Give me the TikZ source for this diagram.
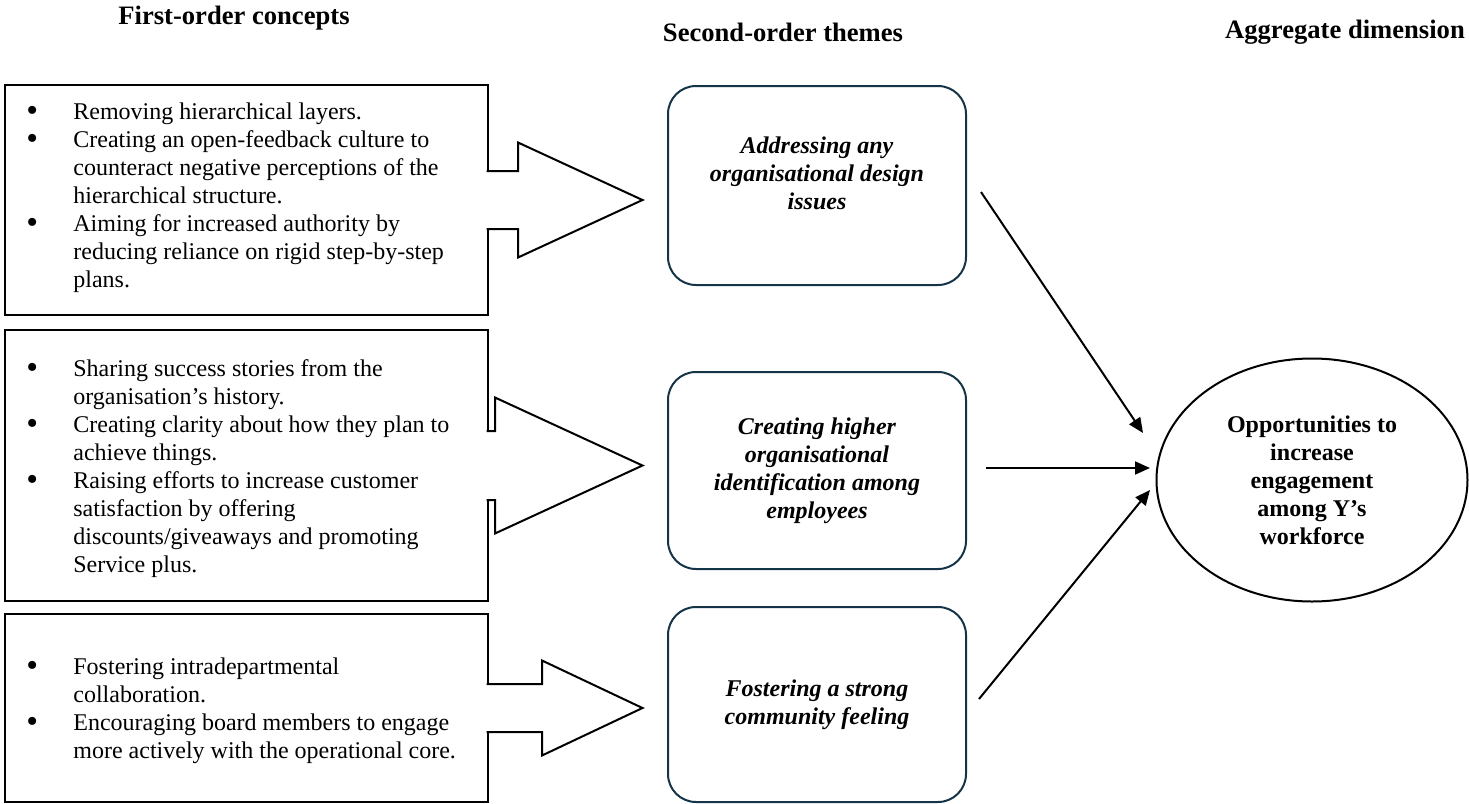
\documentclass[tikz,border=0pt]{standalone}
\usepackage{fontspec}
\setmainfont{Liberation Serif}
\usetikzlibrary{shapes.geometric,arrows.meta,calc}
\definecolor{themeline}{RGB}{22,52,71}
\newcommand{\bigbullet}{\smash{\raisebox{-0.1em}{\scalebox{1.4}{\textbullet}}}}

\begin{document}
\begin{tikzpicture}[x=0.5pt, y=-0.5pt, >={Triangle[length=7.5pt,width=6.5pt]},
  heading/.style={font=\fontsize{13.3}{16}\selectfont\bfseries, inner sep=0pt},
  concept/.style={draw, line width=1pt, minimum width=241.5pt, inner sep=0pt, outer sep=0pt},
  bullets/.style={anchor=west, inner sep=0pt, font=\fontsize{12}{14}\selectfont},
  themetext/.style={align=center, inner sep=0pt, font=\fontsize{12}{14}\selectfont\bfseries\itshape},
  theme/.style={themetext, draw=themeline, line width=1pt, rounded corners=14pt, minimum width=149pt, outer sep=0pt},
  aggregate/.style={ellipse, draw, line width=1pt, minimum width=155.5pt, minimum height=121.5pt, inner sep=0pt, outer sep=0pt, align=center, font=\fontsize{12}{14}\selectfont\bfseries},
  blockarrow/.style={line width=1pt},
  link/.style={->, line width=1pt}]

\useasboundingbox (0,0) rectangle (1469,804);

% Column headings
\node[heading] (hconcepts) at (234,18) {First-order concepts};
\node[heading] (hthemes) at (783,32) {Second-order themes};
\node[heading] (hdimension) at (1345,32) {Aggregate dimension};

% First-order concept boxes
\node[concept, minimum height=115pt] (box1) at (246,200) {};
\node[concept, minimum height=135.5pt] (box2) at (246,465.5) {};
\node[concept, minimum height=94pt] (box3) at (246,708) {};

\node[bullets] (list1) at (26,197.5) {\begin{tabular}{@{}p{23.5pt}@{}l@{}}
\bigbullet & Removing hierarchical layers.\\
\bigbullet & Creating an open-feedback culture to\\
 & counteract negative perceptions of the\\
 & hierarchical structure.\\
\bigbullet & Aiming for increased authority by\\
 & reducing reliance on rigid step-by-step\\
 & plans.
\end{tabular}};
\node[bullets] (list2) at (26,468.5) {\begin{tabular}{@{}p{23.5pt}@{}l@{}}
\bigbullet & Sharing success stories from the\\
 & organisation’s history.\\
\bigbullet & Creating clarity about how they plan to\\
 & achieve things.\\
\bigbullet & Raising efforts to increase customer\\
 & satisfaction by offering\\
 & discounts/giveaways and promoting\\
 & Service plus.
\end{tabular}};
\node[bullets] (list3) at (26,710.5) {\begin{tabular}{@{}p{23.5pt}@{}l@{}}
\bigbullet & Fostering intradepartmental\\
 & collaboration.\\
\bigbullet & Encouraging board members to engage\\
 & more actively with the operational core.
\end{tabular}};

% Block arrows out of the concept boxes
\foreach \b/\sh/\hb/\hh in {box1/29/30.5/57.5, box2/34.5/7.5/68, box3/24/54.5/47.5} {
  \fill[white] ($(\b.east)+(-1.5,-\sh)$) rectangle ($(\b.east)+(1.5,\sh)$);
  \draw[blockarrow] ($(\b.east)+(-1,-\sh)$) -- ($(\b.east)+(\hb,-\sh)$) -- ($(\b.east)+(\hb,-\hh)$)
    -- ($(\b.east)+(155,0)$) -- ($(\b.east)+(\hb,\hh)$) -- ($(\b.east)+(\hb,\sh)$) -- ($(\b.east)+(-1,\sh)$);
}

% Second-order themes
\node[theme, minimum height=99.5pt] (t1) at (817,185.5) {};
\node[themetext] (t1text) at ($(t1.center)+(0,-12.5)$) {Addressing any\\organisational design\\issues};
\node[theme, minimum height=98.5pt] (t2) at (817,470.5) {Creating higher\\organisational\\identification among\\employees};
\node[theme, minimum height=97.5pt] (t3) at (817,704.5) {Fostering a strong\\community feeling};

% Aggregate dimension
\node[aggregate] (goal) at (1312,480) {Opportunities to\\increase\\engagement\\among Y’s\\workforce};

% Links to the aggregate dimension
\coordinate (in1) at ($(goal.west)+(-13.5,-47)$);
\coordinate (in2) at ($(goal.west)+(-6.5,-12)$);
\coordinate (in3) at ($(goal.west)+(-6.5,10)$);
\draw[link] ($(t1.east)+(15,6.5)$) -- (in1);
\draw[link] ($(t2.east)+(20,-2.5)$) -- (in2);
\draw[link] ($(t3.east)+(13,-5.5)$) -- (in3);
\end{tikzpicture}
\end{document}
